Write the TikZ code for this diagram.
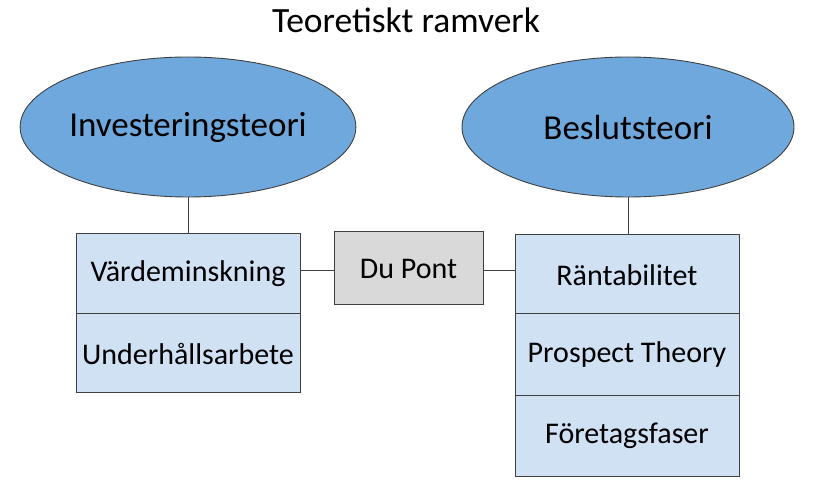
\documentclass[tikz,border=0pt]{standalone}
\usepackage{fontspec}
\setmainfont{Carlito}
\usetikzlibrary{shapes.geometric}
\definecolor{ellfill}{HTML}{6FA8DC}
\definecolor{boxfill}{HTML}{D0E1F4}
\definecolor{grayfill}{HTML}{D9D9D9}
\definecolor{edge}{HTML}{404040}
\begin{document}
\begin{tikzpicture}[x=1pt,y=-1pt,
  ell/.style={ellipse,draw=edge,fill=ellfill,line width=0.9pt,minimum width=332pt,minimum height=140pt,inner sep=0pt,font=\fontsize{35}{42}\selectfont},
  cell/.style={rectangle,draw=edge,fill=boxfill,line width=1pt,minimum width=224pt,minimum height=80pt,inner sep=0pt,font=\fontsize{30}{36}\selectfont},
  dupont/.style={rectangle,draw=edge,fill=grayfill,line width=1pt,minimum width=149pt,minimum height=73pt,inner sep=0pt,font=\fontsize{30}{36}\selectfont},
  conn/.style={draw=edge,line width=0.9pt}]
\useasboundingbox (0,0) rectangle (814,502);
\node[font=\fontsize{35.5}{42}\selectfont] (title) at (406,20) {Teoretiskt ramverk};
\node[ell] (inv) at (188,127) {Investeringsteori};
\node[ell] (bes) at (628,127) {Beslutsteori};
\node[cell] (vard) at (188,274) {Värdeminskning};
\node[cell,minimum height=79pt] (under) at (188,353.5) {Underhållsarbete};
\node[dupont] (du) at (408.5,268.5) {Du Pont};
\node[cell] (rant) at (627,275) {Räntabilitet};
\node[cell,minimum height=82pt] (pros) at (627,355) {Prospect Theory};
\node[cell] (fore) at (627,436) {Företagsfaser};
\draw[conn] (inv.south) -- (vard.north);
\draw[conn] (bes.south) -- (bes.south |- rant.north);
\draw[conn] (vard.east |- 0,270) -- (du.west |- 0,270);
\draw[conn] (du.east |- 0,270) -- (rant.west |- 0,270);
\end{tikzpicture}
\end{document}
